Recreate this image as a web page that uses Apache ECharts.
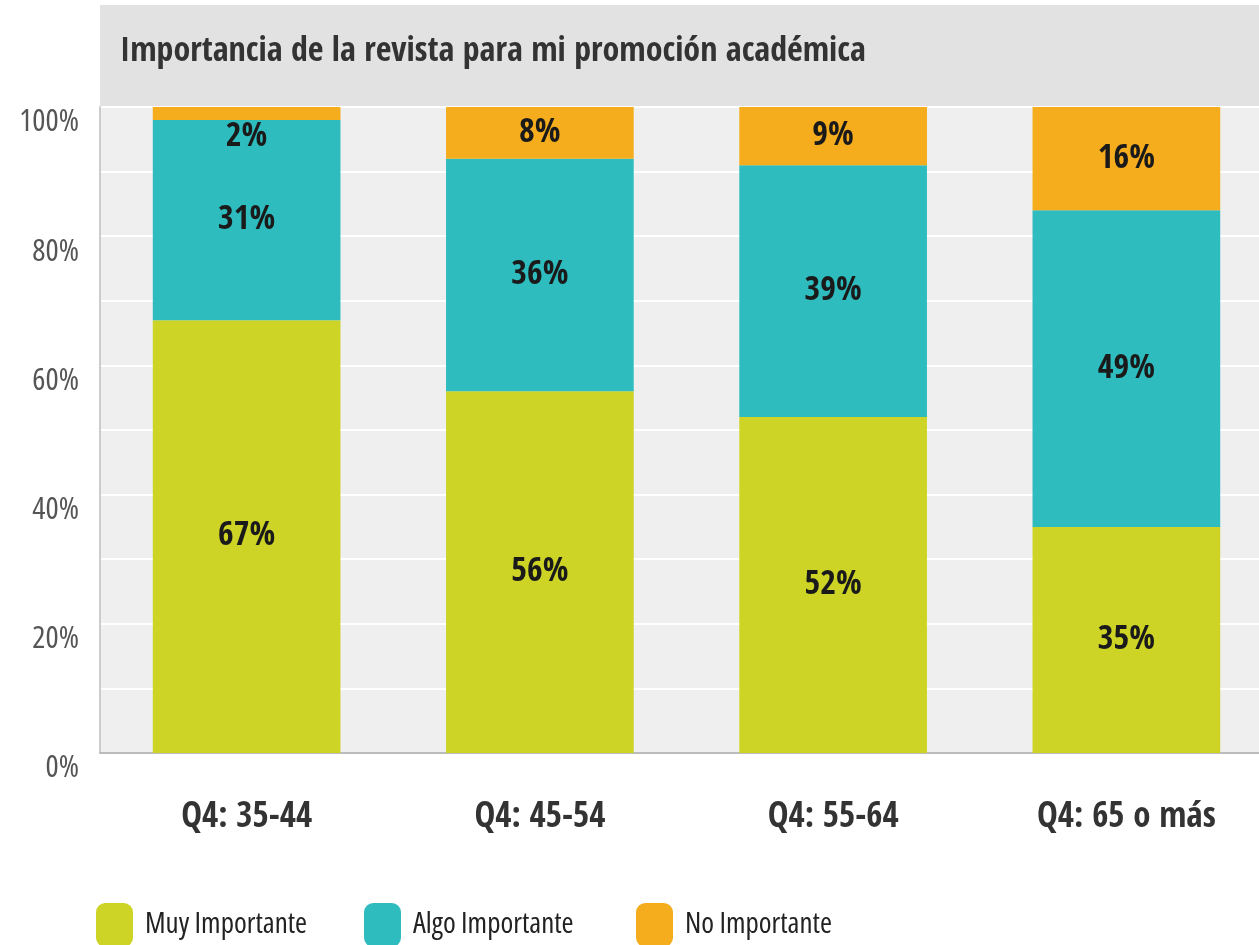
<!DOCTYPE html>
<html>
<head>
<meta charset="utf-8">
<script src="https://cdn.jsdelivr.net/npm/echarts@6/dist/echarts.min.js"></script>
<style>
  html, body { margin: 0; padding: 0; background: #fff; }
  #chart { width: 1259px; height: 945px; }
</style>
</head>
<body>
<div id="chart"></div>
<script>
// datos
const categorias = ['Q4: 35-44', 'Q4: 45-54', 'Q4: 55-64', 'Q4: 65 o más'];
const muyImportante = [67, 56, 52, 35];
const algoImportante = [31, 36, 39, 49];
const noImportante = [2, 8, 9, 16];
const yTicks = [0, 20, 40, 60, 80, 100];
const leyenda = ['Muy Importante', 'Algo Importante', 'No Importante'];

const FONT = '"Open Sans", "Roboto Condensed", sans-serif';
const FONT_BOLD = '"Open Sans Condensed", "Roboto Condensed", sans-serif';

// etiqueta para segmentos muy pequeños: se baja debajo del segmento
function toItems(arr) {
  return arr.map(v => v < 5 ? { value: v, label: { offset: [0, 24] } } : v);
}

function serie(name, data, color) {
  return {
    name: name,
    type: 'bar',
    stack: 'total',
    barWidth: '64%',
    data: toItems(data),
    itemStyle: { color: color },
    label: {
      show: true,
      position: 'inside',
      formatter: '{c}%',
      fontFamily: FONT_BOLD,
      fontWeight: 'bold',
      fontSize: 34,
      color: '#1a1a1a'
    }
  };
}

// una leyenda por elemento, para fijar su posición
const leyendaX = [96, 364, 636];
const legends = leyenda.map((n, i) => ({
  left: leyendaX[i],
  top: 903,
  padding: 0,
  itemWidth: 37,
  itemHeight: 44,
  icon: 'roundRect',
  textStyle: {
    fontFamily: FONT,
    fontWeight: 'condensed',
    fontSize: 29,
    color: '#222',
    padding: [0, 0, 0, 7]
  },
  data: [n]
}));

const myChart = echarts.init(document.getElementById('chart'));
myChart.setOption({
  animation: false,
  backgroundColor: '#ffffff',
  graphic: [
    {
      type: 'rect',
      z: -10,
      shape: { x: 100, y: 5, width: 1159, height: 102 },
      style: { fill: '#e2e2e2' }
    },
    {
      type: 'text',
      left: 120,
      top: 35,
      style: {
        text: 'Importancia de la revista para mi promoción académica',
        font: 'bold 34px ' + FONT_BOLD,
        fill: '#333333'
      }
    }
  ],
  grid: {
    left: 100,
    top: 107,
    width: 1173,
    height: 646,
    outerBoundsMode: 'none',
    show: true,
    backgroundColor: '#efefef',
    borderWidth: 0
  },
  legend: legends,
  xAxis: {
    type: 'category',
    data: categorias,
    axisLine: { lineStyle: { color: '#bbbbbb', width: 2 } },
    axisTick: { show: false },
    axisLabel: {
      margin: 47,
      fontFamily: FONT_BOLD,
      fontWeight: 'bold',
      fontSize: 35,
      color: '#333'
    }
  },
  yAxis: {
    type: 'value',
    min: 0,
    max: 100,
    interval: 10,
    axisLine: { show: true, lineStyle: { color: '#cccccc', width: 2 } },
    axisTick: { show: false },
    splitLine: { lineStyle: { color: '#ffffff', width: 2 } },
    axisLabel: {
      margin: 21,
      verticalAlign: 'top',
      fontFamily: FONT,
      fontWeight: 'condensed',
      fontSize: 31,
      color: '#555',
      formatter: v => yTicks.includes(v) ? v + '%' : ''
    }
  },
  series: [
    serie(leyenda[0], muyImportante, '#cdd425'),
    serie(leyenda[1], algoImportante, '#2fbcbf'),
    serie(leyenda[2], noImportante, '#f5ad1e')
  ]
});
</script>
</body>
</html>
